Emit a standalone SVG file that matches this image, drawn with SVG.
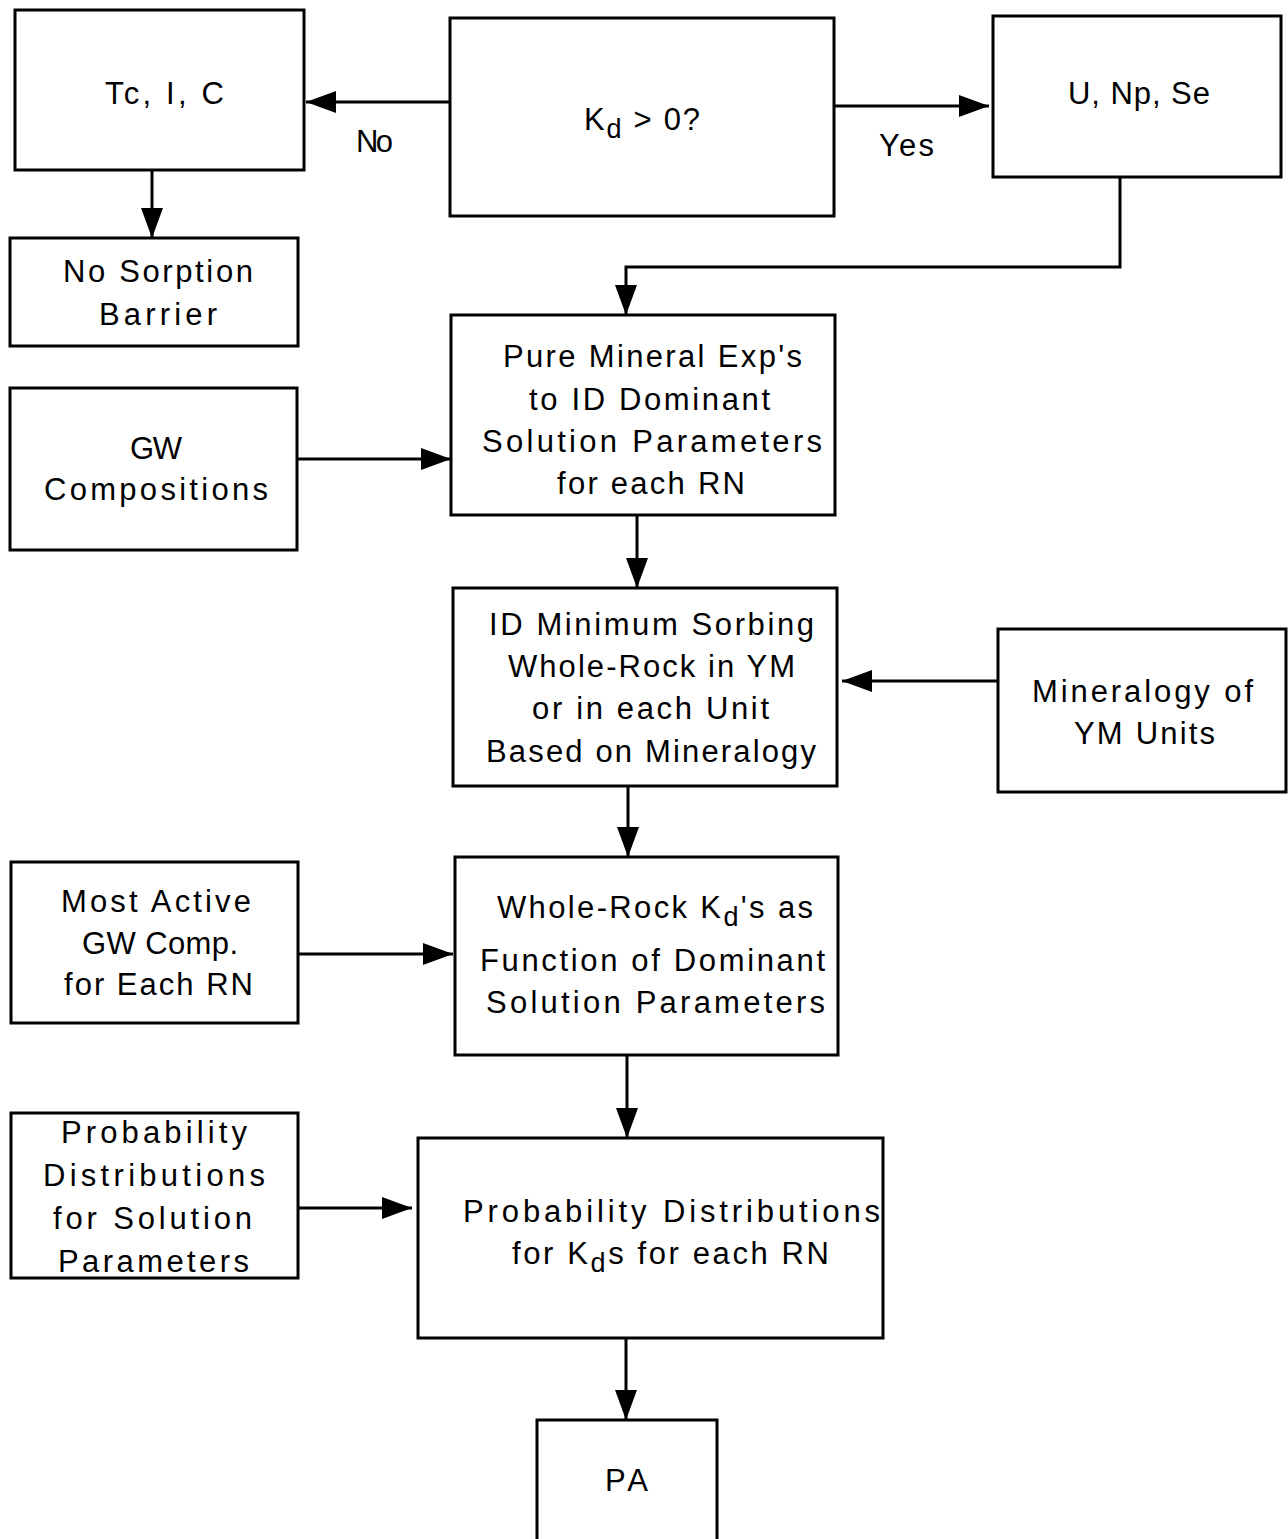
<svg xmlns="http://www.w3.org/2000/svg" width="1288" height="1539" viewBox="0 0 1288 1539">
<style>
.box{fill:#fff;stroke:#000;stroke-width:3}
.t{font-family:"Liberation Sans Narrow","Liberation Sans",Arial,sans-serif;font-size:31px;fill:#000;text-anchor:middle}
.sub{font-size:27px}
.c{fill:none;stroke:#000;stroke-width:3}
</style>
<defs>
<marker id="ah" markerUnits="userSpaceOnUse" markerWidth="32" markerHeight="24" refX="30" refY="11" orient="auto">
<path d="M0,0 L30,11 L0,22 z" fill="#000"/>
</marker>
</defs>
<rect width="1288" height="1539" fill="#fff"/>
<g id="connectors">
<line class="c" x1="450" y1="102" x2="306" y2="102" marker-end="url(#ah)"/>
<line class="c" x1="834" y1="106" x2="989" y2="106" marker-end="url(#ah)"/>
<line class="c" x1="152" y1="170" x2="152" y2="238" marker-end="url(#ah)"/>
<polyline class="c" points="1120,177 1120,267 626,267 626,315" marker-end="url(#ah)"/>
<line class="c" x1="297" y1="459" x2="451" y2="459" marker-end="url(#ah)"/>
<line class="c" x1="637" y1="515" x2="637" y2="588" marker-end="url(#ah)"/>
<line class="c" x1="998" y1="681" x2="842" y2="681" marker-end="url(#ah)"/>
<line class="c" x1="628" y1="786" x2="628" y2="857" marker-end="url(#ah)"/>
<line class="c" x1="298" y1="954" x2="453" y2="954" marker-end="url(#ah)"/>
<line class="c" x1="627" y1="1055" x2="627" y2="1138" marker-end="url(#ah)"/>
<line class="c" x1="298" y1="1208" x2="412" y2="1208" marker-end="url(#ah)"/>
<line class="c" x1="626" y1="1338" x2="626" y2="1420" marker-end="url(#ah)"/>
<text class="t" x="374.5" y="152" textLength="37">No</text>
<text class="t" x="906.5" y="156" textLength="55">Yes</text>
</g>
<g id="tc">
<rect class="box" x="15" y="10" width="289" height="160"/>
<text class="t" x="164.5" y="104" textLength="119">Tc, I, C</text>
</g>
<g id="kd">
<rect class="box" x="450" y="18" width="384" height="198"/>
<text class="t" x="642" y="130" textLength="116">K<tspan class="sub" dy="8">d</tspan><tspan dy="-8"> &gt; 0?</tspan></text>
</g>
<g id="unpse">
<rect class="box" x="993" y="16" width="288" height="161"/>
<text class="t" x="1139" y="104" textLength="142">U, Np, Se</text>
</g>
<g id="nosorption">
<rect class="box" x="10" y="238" width="288" height="108"/>
<text class="t" x="158" y="282" textLength="190">No Sorption</text>
<text class="t" x="158" y="325" textLength="118">Barrier</text>
</g>
<g id="pure">
<rect class="box" x="451" y="315" width="384" height="200"/>
<text class="t" x="652.5" y="367" textLength="299">Pure Mineral Exp's</text>
<text class="t" x="649.5" y="410" textLength="241">to ID Dominant</text>
<text class="t" x="652" y="452" textLength="340">Solution Parameters</text>
<text class="t" x="651" y="494" textLength="188">for each RN</text>
</g>
<g id="gw">
<rect class="box" x="10" y="388" width="287" height="162"/>
<text class="t" x="156" y="459" textLength="52">GW</text>
<text class="t" x="156" y="500" textLength="224">Compositions</text>
</g>
<g id="idmin">
<rect class="box" x="453" y="588" width="384" height="198"/>
<text class="t" x="651.5" y="635" textLength="325">ID Minimum Sorbing</text>
<text class="t" x="651.5" y="677" textLength="287">Whole-Rock in YM</text>
<text class="t" x="650.5" y="719" textLength="237">or in each Unit</text>
<text class="t" x="651" y="762" textLength="330">Based on Mineralogy</text>
</g>
<g id="mineralogy">
<rect class="box" x="998" y="629" width="288" height="163"/>
<text class="t" x="1142.5" y="702" textLength="221">Mineralogy of</text>
<text class="t" x="1144.5" y="744" textLength="141">YM Units</text>
</g>
<g id="mostactive">
<rect class="box" x="11" y="862" width="287" height="161"/>
<text class="t" x="156" y="912" textLength="190">Most Active</text>
<text class="t" x="160" y="954" textLength="156">GW Comp.</text>
<text class="t" x="158.5" y="995" textLength="189">for Each RN</text>
</g>
<g id="wholerock">
<rect class="box" x="455" y="857" width="383" height="198"/>
<text class="t" x="655" y="918" textLength="316">Whole-Rock K<tspan class="sub" dy="8">d</tspan><tspan dy="-8">'s as</tspan></text>
<text class="t" x="652.5" y="971" textLength="345">Function of Dominant</text>
<text class="t" x="655.5" y="1013" textLength="339">Solution Parameters</text>
</g>
<g id="probsol">
<rect class="box" x="11" y="1113" width="287" height="165"/>
<text class="t" x="154" y="1143" textLength="186">Probability</text>
<text class="t" x="154" y="1186" textLength="222">Distributions</text>
<text class="t" x="152.5" y="1229" textLength="199">for Solution</text>
<text class="t" x="153.5" y="1272" textLength="191">Parameters</text>
</g>
<g id="probkd">
<rect class="box" x="418" y="1138" width="465" height="200"/>
<text class="t" x="671.5" y="1222" textLength="417">Probability Distributions</text>
<text class="t" x="670.5" y="1264" textLength="317">for K<tspan class="sub" dy="8">d</tspan><tspan dy="-8">s for each RN</tspan></text>
</g>
<g id="pa">
<rect class="box" x="537" y="1420" width="180" height="130"/>
<text class="t" x="626.5" y="1491" textLength="43">PA</text>
</g>
</svg>
